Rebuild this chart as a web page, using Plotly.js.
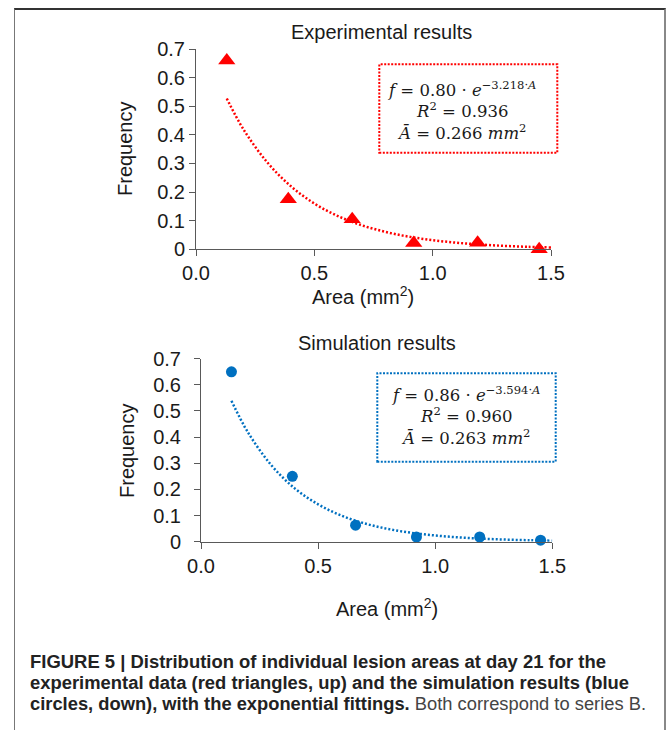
<!DOCTYPE html>
<html>
<head>
<meta charset="utf-8">
<script src="https://cdn.plot.ly/plotly-3.0.1.min.js"></script>
<style>
  html, body { margin: 0; padding: 0; background: #fff; }
  body { width: 669px; height: 730px; position: relative; overflow: hidden; }
  #frame { position: absolute; left: 14px; top: 8px; width: 652px; height: 740px;
           border-top: 2px solid #333; border-left: 1px solid #777; border-right: 2px solid #888; box-sizing: border-box; }
  #chart { position: absolute; left: 0; top: 0; width: 669px; height: 730px; }
  #caption { position: absolute; left: 29.5px; top: 0; font-family: "Liberation Sans", Arial, sans-serif;
             font-size: 18px; color: #222; }
  .cl { position: absolute; left: 0; white-space: nowrap; transform-origin: 0 50%; line-height: 21px; }
  .b { font-weight: bold; }
  .n { font-weight: normal; color: #444; }
</style>
</head>
<body>
<div id="frame"></div>
<div id="chart"></div>
<div id="caption">
  <div class="cl b" data-w="576" style="top:651.5px">FIGURE 5 | Distribution of individual lesion areas at day 21 for the</div>
  <div class="cl b" data-w="599" style="top:672.5px">experimental data (red triangles, up) and the simulation results (blue</div>
  <div class="cl" data-w="616" style="top:693.5px"><span class="b">circles, down), with the exponential fittings.</span><span class="n"> Both correspond to series B.</span></div>
</div>
<script>
// ---- data ----
const areaBins   = [0.13, 0.39, 0.66, 0.92, 1.19, 1.45];
const expFreq    = [0.66, 0.175, 0.105, 0.022, 0.023, 0.0];
const simFreq    = [0.65, 0.25, 0.063, 0.018, 0.018, 0.006];
// fitted trend curves (dotted)
const fitArea    = [0.13, 0.2, 0.3, 0.4, 0.5, 0.6, 0.7, 0.8, 0.9, 1.0, 1.1, 1.2, 1.3, 1.4, 1.5];
const expFit     = [0.527, 0.420, 0.305, 0.221, 0.160, 0.116, 0.084, 0.061, 0.044, 0.032, 0.023, 0.017, 0.012, 0.0088, 0.0064];
const simFit     = [0.539, 0.419, 0.293, 0.204, 0.143, 0.0996, 0.0695, 0.0485, 0.0339, 0.0237, 0.0165, 0.0115, 0.0081, 0.0056, 0.0039];
const xTickVals  = [0, 0.5, 1.0, 1.5];
const xTickText  = ["0.0", "0.5", "1.0", "1.5"];
const yTickVals  = [0, 0.1, 0.2, 0.3, 0.4, 0.5, 0.6, 0.7];
const yTickText  = ["0", "0.1", "0.2", "0.3", "0.4", "0.5", "0.6", "0.7"];
const titles     = ["Experimental results", "Simulation results"];
const xTitle     = "Area (mm<sup>2</sup>)";
const yTitle     = "Frequency";
const expEq      = "<i>f</i> = 0.80 · <i>e</i><sup>−3.218·<i>A</i></sup><br><i>R</i><sup>2</sup> = 0.936<br><i>Ā</i> = 0.266 <i>mm</i><sup>2</sup>";
const simEq      = "<i>f</i> = 0.86 · <i>e</i><sup>−3.594·<i>A</i></sup><br><i>R</i><sup>2</sup> = 0.960<br><i>Ā</i> = 0.263 <i>mm</i><sup>2</sup>";

const W = 669, H = 730;
const px = x => x / W;
const py = y => 1 - y / H;
const RED = "#FF0000", BLUE = "#0070C0";
const SANS = "Liberation Sans, Arial, sans-serif";
const SERIF = "DejaVu Serif, serif";
const TXT = "#1a1a1a";

const traces = [
  { x: fitArea, y: expFit, xaxis: "x", yaxis: "y", mode: "lines", line: { color: RED, width: 2.5, dash: "2px,2px", shape: "spline" }, hoverinfo: "skip" },
  { x: areaBins, y: expFreq, xaxis: "x", yaxis: "y", mode: "markers", marker: { symbol: "triangle-up", size: 15, color: RED }, cliponaxis: false },
  { x: fitArea, y: simFit, xaxis: "x2", yaxis: "y2", mode: "lines", line: { color: BLUE, width: 2.5, dash: "2px,2px", shape: "spline" }, hoverinfo: "skip" },
  { x: areaBins, y: simFreq, xaxis: "x2", yaxis: "y2", mode: "markers", marker: { symbol: "circle", size: 11, color: BLUE }, cliponaxis: false }
];

function xAx(dom, anchor) {
  return { domain: dom, anchor: anchor, range: [0, 1.5], showline: true, linecolor: "#595959", linewidth: 1,
    ticks: "outside", ticklen: 6, tickcolor: "#595959", tickwidth: 1, tickvals: xTickVals, ticktext: xTickText,
    showgrid: false, zeroline: false, tickfont: { family: SANS, size: 20, color: TXT }, fixedrange: true };
}
function yAx(dom, anchor, standoff) {
  return { domain: dom, anchor: anchor, range: [0, 0.7], showline: true, linecolor: "#595959", linewidth: 1,
    ticks: "outside", ticklen: 6, tickcolor: "#595959", tickwidth: 1, tickvals: yTickVals, ticktext: yTickText,
    showgrid: false, zeroline: false, tickfont: { family: SANS, size: 20, color: TXT }, fixedrange: true,
    ticklabelstandoff: standoff };
}

const ann = (text, x, y, size, extra) => Object.assign({ text: text, x: px(x), y: py(y), xref: "paper", yref: "paper",
  xanchor: "center", yanchor: "middle", showarrow: false, font: { family: SANS, size: size, color: TXT } }, extra || {});

const layout = {
  width: W, height: H, margin: { l: 0, r: 0, t: 0, b: 0 },
  paper_bgcolor: "rgba(0,0,0,0)", plot_bgcolor: "rgba(0,0,0,0)", showlegend: false,
  xaxis: xAx([px(196), px(551)], "y"),
  yaxis: yAx([py(249.3), py(49)], "x", 0),
  xaxis2: xAx([px(201), px(552.3)], "y2"),
  yaxis2: yAx([py(541.7), py(358.7)], "x2", 9),
  annotations: [
    ann(titles[0], 382, 31.5, 20),
    ann(titles[1], 377, 343, 20),
    ann(xTitle, 363, 295, 20),
    ann(xTitle, 387, 607, 20),
    ann(yTitle, 125, 149, 20, { textangle: -90 }),
    ann(yTitle, 127, 451, 20, { textangle: -90 }),
    ann(expEq, 461, 111, 16.5, { font: { family: SERIF, size: 16.5, color: TXT }, align: "center" }),
    ann(simEq, 465, 415, 16.5, { font: { family: SERIF, size: 16.5, color: TXT }, align: "center" })
  ],
  shapes: [
    { type: "rect", xref: "paper", yref: "paper", x0: px(379.3), x1: px(557.3), y0: py(152.7), y1: py(64.3),
      line: { color: RED, width: 2, dash: "2px,1.5px" } },
    { type: "rect", xref: "paper", yref: "paper", x0: px(377.3), x1: px(555.7), y0: py(461.7), y1: py(373.3),
      line: { color: BLUE, width: 2, dash: "2px,1.5px" } }
  ]
};

Plotly.newPlot("chart", traces, layout, { staticPlot: true, displayModeBar: false });

function fitCaption() {
  document.querySelectorAll(".cl").forEach(el => {
    el.style.transform = "none";
    const w = el.getBoundingClientRect().width;
    const target = +el.dataset.w;
    if (w > 0) el.style.transform = "scaleX(" + (target / w) + ")";
  });
}
fitCaption();
if (document.fonts && document.fonts.ready) document.fonts.ready.then(fitCaption);
</script>
</body>
</html>
